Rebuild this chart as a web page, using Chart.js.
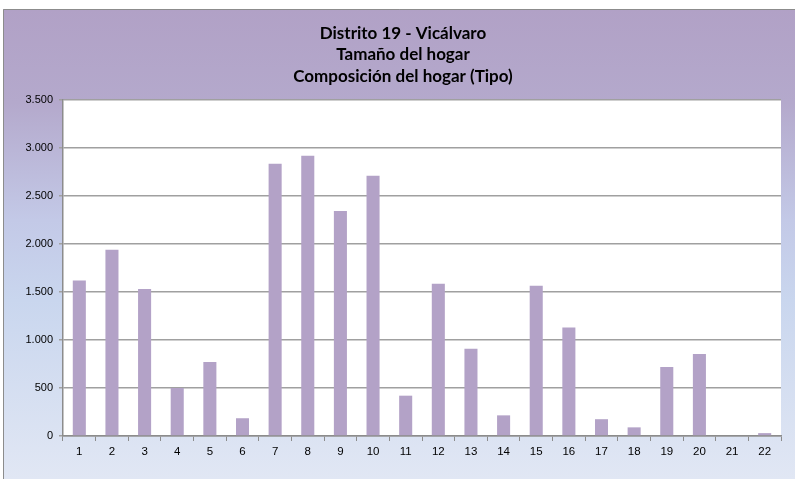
<!DOCTYPE html>
<html>
<head>
<meta charset="utf-8">
<script src="https://cdn.jsdelivr.net/npm/chart.js@4.4.1/dist/chart.umd.min.js"></script>
<style>
    html, body { margin: 0; padding: 0; background: #ffffff; }
    #wrap { width: 795px; height: 479px; }
</style>
</head>
<body>
<div id="wrap"><canvas id="chartElement" width="795" height="479"></canvas></div>
<script>
/* Chart data */
const titleLines = ["Distrito 19 - Vicálvaro", "Tamaño del hogar", "Composición del hogar (Tipo)"];
const categories = ["1", "2", "3", "4", "5", "6", "7", "8", "9", "10", "11",
    "12", "13", "14", "15", "16", "17", "18", "19", "20", "21", "22"];
const hogares = [1620, 1940, 1530, 500, 770, 185, 2835, 2920, 2345, 2710, 420,
    1585, 910, 215, 1565, 1130, 175, 90, 720, 855, 0, 30];
const Y_MAX = 3500;
const Y_STEP = 500;

/* Helper functions */
function formatThousands(value) {
    // spanish style: 3.500
    return String(value).replace(/\B(?=(\d{3})+(?!\d))/g, '.');
}

// outer gradient box + white plot area
const backgroundPlugin = {
    id: 'officeBackground',
    beforeDraw(chart) {
        const ctx = chart.ctx;
        const area = chart.chartArea;
        ctx.save();
        const grad = ctx.createLinearGradient(0, 9, 0, 479);
        grad.addColorStop(0, '#b1a1c6');
        grad.addColorStop(0.2, '#b4a9cc');
        grad.addColorStop(0.45, '#c3c9e7');
        grad.addColorStop(0.62, '#c9d6ee');
        grad.addColorStop(1, '#e1e7f4');
        ctx.fillStyle = grad;
        ctx.fillRect(3, 9, 792, 470);
        ctx.strokeStyle = '#8c8c8c';
        ctx.lineWidth = 1;
        ctx.beginPath();
        ctx.moveTo(3.5, 479);
        ctx.lineTo(3.5, 9.5);
        ctx.lineTo(795, 9.5);
        ctx.stroke();
        ctx.fillStyle = '#ffffff';
        ctx.fillRect(area.left, area.top, area.right - area.left, area.bottom - area.top);
        ctx.restore();
    }
};

const config = {
    type: 'bar',
    data: {
        labels: categories,
        datasets: [
            {
                label: 'Hogares',
                data: hogares,
                backgroundColor: '#b3a2c7',
                borderWidth: 0,
                barPercentage: 0.4,
                categoryPercentage: 1.0
            }
        ]
    },
    options: {
        responsive: false,
        animation: false,
        layout: {
            padding: { top: 10, left: 25, right: 14, bottom: 13 }
        },
        plugins: {
            legend: { display: false },
            tooltip: { enabled: false },
            title: {
                display: true,
                text: titleLines,
                color: '#000000',
                font: { family: 'Lato', size: 17, weight: 'bold', lineHeight: 1.25 },
                padding: { top: 13, bottom: 13.25 }
            }
        },
        scales: {
            x: {
                grid: {
                    offset: true,
                    drawOnChartArea: false,
                    tickLength: 5,
                    color: '#8c8c8c'
                },
                border: { color: '#8c8c8c', width: 1.5 },
                ticks: {
                    color: '#000000',
                    font: { family: 'Liberation Sans', size: 11.5 },
                    padding: 4,
                    maxRotation: 0,
                    autoSkip: false
                },
                afterFit: function (scale) {
                    scale.height = 30;
                }
            },
            y: {
                min: 0,
                max: Y_MAX,
                ticks: {
                    stepSize: Y_STEP,
                    color: '#000000',
                    font: { family: 'Liberation Sans', size: 11 },
                    padding: 6,
                    callback: function (value) {
                        return formatThousands(value);
                    }
                },
                grid: {
                    color: '#a0a0a0',
                    lineWidth: 1.5,
                    tickLength: 4
                },
                border: { color: '#8c8c8c', width: 1.5 },
                afterFit: function (scale) {
                    scale.width = 38;
                }
            }
        }
    },
    plugins: [backgroundPlugin]
};

let hogarChart = new Chart(document.getElementById('chartElement'), config);
</script>
</body>
</html>
